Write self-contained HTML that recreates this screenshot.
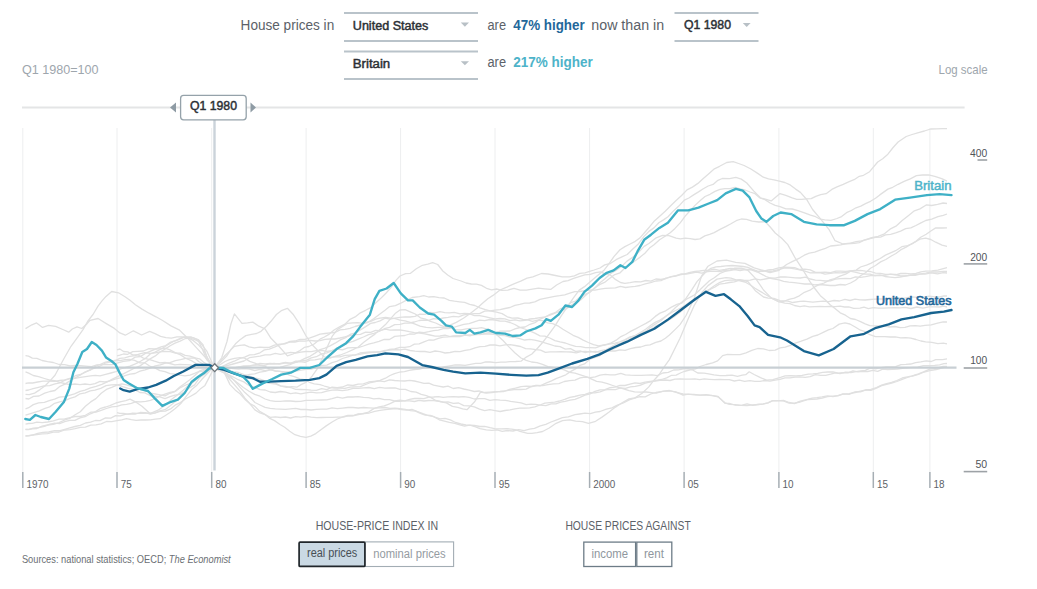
<!DOCTYPE html>
<html><head><meta charset="utf-8">
<style>
html,body{margin:0;padding:0;background:#fff;}
body{width:1037px;height:589px;overflow:hidden;}
svg{display:block;font-family:"Liberation Sans",sans-serif;}
</style></head>
<body>
<svg width="1037" height="589" viewBox="0 0 1037 589">
<rect width="1037" height="589" fill="#fff"/>
<!-- header -->
<g font-size="14" fill="#5b6168">
<text x="240.6" y="29.9" textLength="93.6" lengthAdjust="spacingAndGlyphs">House prices in</text>
<text x="487.5" y="29.8" textLength="18.5" lengthAdjust="spacingAndGlyphs">are</text>
<text x="591.3" y="29.8" textLength="72.8" lengthAdjust="spacingAndGlyphs">now than in</text>
<text x="487.5" y="66.8" textLength="18.5" lengthAdjust="spacingAndGlyphs">are</text>
</g>
<text x="513.3" y="29.8" font-size="14" font-weight="bold" fill="#23679a" textLength="71.4" lengthAdjust="spacingAndGlyphs">47% higher</text>
<text x="513.3" y="66.8" font-size="14" font-weight="bold" fill="#4db3c9" textLength="79.5" lengthAdjust="spacingAndGlyphs">217% higher</text>
<!-- dropdowns -->
<g stroke="#b9c3ca" stroke-width="2">
<line x1="344" y1="13" x2="478" y2="13"/><line x1="344" y1="41" x2="478" y2="41"/>
<line x1="344" y1="51.5" x2="478" y2="51.5"/><line x1="344" y1="79" x2="478" y2="79"/>
<line x1="674.5" y1="13" x2="758.5" y2="13"/><line x1="674.5" y1="41" x2="758.5" y2="41"/>
</g>
<g fill="#b8c0c6">
<path d="M460.8,22.6 L469,22.6 L464.9,26.7Z"/>
<path d="M460.8,61.2 L469,61.2 L464.9,65.3Z"/>
<path d="M742.8,23 L750.6,23 L746.7,27.1Z"/>
</g>
<g font-size="12" fill="#2b2f34" stroke="#2b2f34" stroke-width="0.45">
<text x="352.8" y="29.5" textLength="75.5" lengthAdjust="spacingAndGlyphs">United States</text>
<text x="352.8" y="68" textLength="37.4" lengthAdjust="spacingAndGlyphs">Britain</text>
<text x="684" y="29.4" textLength="47" lengthAdjust="spacingAndGlyphs">Q1 1980</text>
</g>
<g font-size="13" fill="#9ea6ad">
<text x="21.9" y="74.1" textLength="76.6" lengthAdjust="spacingAndGlyphs">Q1 1980=100</text>
<text x="938.6" y="74" textLength="49" lengthAdjust="spacingAndGlyphs">Log scale</text>
</g>
<!-- top slider line -->
<line x1="22" y1="107.6" x2="964.6" y2="107.6" stroke="#e4e5e6" stroke-width="2"/>
<!-- grid -->
<g stroke="#edeeef" stroke-width="1">
<line x1="22.8" y1="128" x2="22.8" y2="472" />
<line x1="117.0" y1="128" x2="117.0" y2="472" />
<line x1="211.7" y1="128" x2="211.7" y2="472" />
<line x1="306.1" y1="128" x2="306.1" y2="472" />
<line x1="400.6" y1="128" x2="400.6" y2="472" />
<line x1="495.0" y1="128" x2="495.0" y2="472" />
<line x1="589.6" y1="128" x2="589.6" y2="472" />
<line x1="684.1" y1="128" x2="684.1" y2="472" />
<line x1="778.9" y1="128" x2="778.9" y2="472" />
<line x1="873.3" y1="128" x2="873.3" y2="472" />
<line x1="929.9" y1="128" x2="929.9" y2="472" />
</g>
<!-- gray lines -->
<g fill="none" stroke="#e0e0e0" stroke-width="1.3" stroke-linejoin="round">
<polyline points="25.5,328.6 31.9,324.8 36.6,322.9 42.6,327.4 48.5,325.4 55.6,326.4 62.8,329.5 68.7,332.2 72.3,329.0 77.0,326.8 81.8,328.5 86.5,324.3 90.0,320.3 98.1,318.5 106.3,323.6 114.4,328.4 119.9,332.9 125.3,335.2 133.4,330.8 141.6,335.0 149.7,331.3 155.0,333.7 160.6,336.3 166.0,337.6 171.4,338.2 176.9,336.9 182.3,336.9 187.7,337.8 193.1,340.4 198.6,345.1 204.0,350.6 209.2,361.2 214.3,367.6 219.4,362.6 225.0,355.5 229.5,351.1 234.5,346.4 240.0,345.4 244.4,344.9 249.1,346.8 254.2,347.9 260.0,347.1 264.4,347.5 269.3,347.4 274.4,345.2 279.6,344.1 284.9,343.8 290.0,341.4 295.0,341.0 300.0,339.3 305.0,339.4 310.0,337.9 315.0,336.1 320.0,334.2 325.0,333.5 330.0,332.8 335.0,332.5 340.0,329.9 345.0,329.4 350.0,328.4 355.1,326.5 360.4,325.0 365.6,322.5 370.7,321.4 375.6,319.2 380.0,318.2 385.7,317.5 390.6,318.2 395.2,318.7 400.0,320.1 405.1,320.9 410.2,322.4 415.2,324.1 420.0,326.2 426.2,327.4 432.1,327.8 437.4,327.3 443.7,327.4 449.5,325.4 456.3,322.4 463.4,318.3 470.2,313.5 477.3,308.1 482.5,303.3 487.8,298.7 493.0,295.4 500.0,290.0 506.8,287.1 513.9,283.8 520.7,281.1 527.1,278.1 532.8,276.8 541.5,273.5 548.1,274.0 555.4,275.5 562.2,276.8 569.3,276.8 574.4,275.8 579.8,273.3 585.0,272.8 589.6,271.3 594.1,270.0 600.0,268.0 604.7,264.9 610.3,263.5 616.1,259.7 621.9,256.9 627.2,254.5 633.1,248.7 638.6,243.7 643.8,236.6 648.9,231.4 653.9,227.9 658.8,222.7 663.5,219.9 668.0,216.7 673.5,210.9 678.8,206.1 684.3,200.1 688.9,198.0 693.6,194.9 698.5,191.9 703.3,188.8 708.2,186.0 713.1,184.4 717.9,180.3 722.3,178.5 729.6,178.6 735.9,177.4 741.3,179.1 746.8,183.0 753.6,190.9 760.4,197.8 766.1,199.4 771.2,200.9 780.0,193.6 785.8,195.4 792.2,197.9 796.8,199.4 801.7,199.3 806.5,198.8 811.2,198.6 815.8,196.3 820.7,194.6 826.1,193.7 831.8,189.4 837.0,186.9 843.2,184.4 849.2,181.7 854.1,179.7 859.3,176.3 863.5,175.3 869.6,171.7 877.7,162.0 882.7,158.7 887.9,154.2 893.1,147.5 898.1,142.0 906.2,136.5 912.1,134.5 918.5,132.6 924.4,131.0 930.7,129.0 936.4,128.9 942.6,128.6 947.0,128.6"/>
<polyline points="25.5,394.3 29.2,394.7 34.6,393.1 40.0,389.6 45.2,385.8 50.4,380.4 55.0,375.3 64.0,358.5 71.0,346.3 77.7,337.2 83.0,329.6 88.0,320.9 93.0,314.5 98.0,306.1 102.0,300.9 106.0,296.4 111.7,291.5 118.5,292.8 125.0,296.7 130.0,300.2 135.4,304.7 142.0,309.1 149.0,313.2 156.0,316.8 162.6,320.5 171.0,325.9 179.6,330.2 188.0,338.5 196.6,347.9 205.0,357.0 214.3,367.6 219.3,365.2 225.0,361.5 229.5,359.6 234.5,358.4 240.0,357.6 244.6,358.1 249.7,361.4 254.9,363.1 260.0,365.3 265.0,366.2 270.0,369.4 275.0,371.0 280.0,371.3 285.0,373.2 290.0,375.4 295.0,376.8 300.0,378.8 304.8,379.6 309.4,382.3 314.3,383.8 320.0,384.6 324.4,386.0 329.3,387.4 334.4,388.1 339.6,388.0 344.9,388.3 350.0,387.2 355.1,386.8 360.4,386.7 365.6,384.5 370.7,382.5 375.6,381.5 380.0,380.4 385.5,378.2 390.0,375.5 394.5,373.6 400.0,372.0 404.4,371.6 409.3,370.4 414.4,369.5 419.6,369.1 424.9,367.7 430.0,367.2 435.0,367.8 440.0,367.8 445.0,366.6 450.0,365.8 455.0,364.9 460.0,365.0 465.1,365.3 470.4,364.4 475.6,363.4 480.7,363.4 485.6,361.8 490.0,362.0 495.8,362.7 500.9,362.2 505.5,362.1 510.0,361.6 515.7,361.5 521.0,361.2 526.3,357.1 531.9,354.0 537.5,348.2 542.6,342.5 549.0,334.2 554.8,326.1 560.9,316.4 567.0,307.3 573.1,298.4 579.2,290.1 585.3,286.1 591.4,280.8 597.3,275.8 603.7,270.6 608.7,264.2 614.1,256.4 620.0,249.7 624.9,246.6 630.1,244.0 635.3,241.3 640.0,237.9 645.1,232.0 649.7,226.7 654.4,220.9 659.7,216.2 665.2,211.2 670.7,205.7 676.1,200.5 681.6,195.5 687.0,189.9 692.4,187.1 697.9,183.4 703.3,178.6 708.8,173.8 714.4,168.8 719.6,166.3 726.7,162.5 733.2,161.6 738.6,163.5 744.1,165.5 750.9,169.0 757.7,173.4 763.3,177.2 768.5,178.8 774.0,179.8 779.4,181.2 784.8,182.5 790.2,184.9 795.6,189.1 800.4,192.4 806.5,199.2 812.6,209.5 820.7,219.2 828.9,229.3 835.0,240.7 843.0,244.0 850.5,243.5 854.4,243.4 859.2,242.7 864.7,239.9 870.2,238.5 875.5,237.4 880.5,237.1 885.5,234.8 890.6,234.4 895.6,232.9 900.6,231.1 905.7,228.6 910.8,227.9 915.9,225.5 920.9,222.9 925.7,220.5 931.8,219.1 937.9,216.7 943.3,215.3 947.0,214.0"/>
<polyline points="25.5,408.8 28.7,407.7 33.3,404.6 38.6,402.8 44.4,402.3 50.0,400.4 54.6,399.1 59.3,397.2 64.2,396.6 69.3,395.4 74.5,393.9 80.0,391.4 85.0,390.1 90.5,387.9 96.1,386.3 101.8,384.4 107.2,382.0 112.4,379.1 117.0,376.9 123.8,373.6 129.6,370.6 134.8,368.0 140.0,365.9 145.3,362.2 150.5,358.6 155.4,355.9 160.0,352.0 165.4,348.9 170.2,345.8 175.0,343.1 180.2,341.2 185.4,338.5 190.0,338.0 195.5,339.9 200.0,342.3 207.0,351.4 214.3,367.6 218.4,367.9 223.5,365.9 229.2,363.2 234.9,360.8 240.0,358.5 245.2,356.9 249.7,354.8 254.4,354.6 260.0,352.8 264.4,349.9 269.3,349.1 274.4,347.1 279.6,344.8 284.9,343.3 290.0,342.0 295.0,342.0 300.0,340.8 305.0,341.2 310.0,340.3 315.0,341.0 320.0,340.7 325.0,339.4 330.0,339.0 335.0,339.0 340.0,338.0 345.0,336.8 350.0,335.5 355.1,334.7 360.4,334.3 365.6,332.1 370.7,332.4 375.6,330.3 380.0,330.7 385.5,329.1 390.0,330.1 394.5,329.9 400.0,330.0 404.4,330.6 409.3,331.7 414.4,332.6 419.6,333.1 424.9,333.8 430.0,335.0 435.0,336.2 440.0,336.0 445.0,335.2 450.0,336.7 455.0,336.5 460.0,336.7 465.0,335.2 470.0,335.8 475.0,334.1 480.0,334.6 485.0,333.3 490.0,332.5 495.0,333.1 500.0,331.1 505.0,331.2 510.0,331.0 515.0,328.9 520.0,327.5 525.0,327.0 530.0,324.3 535.0,322.6 540.0,319.1 545.0,317.2 550.0,314.4 555.1,312.7 560.4,308.7 565.6,307.3 570.7,302.7 575.6,301.1 580.0,297.1 585.5,294.2 590.0,292.3 594.5,288.0 600.0,284.4 604.5,282.4 609.5,278.6 614.8,274.6 620.1,272.8 625.2,267.8 630.0,264.2 635.2,260.7 640.2,257.1 644.9,253.2 649.5,248.1 654.0,244.7 659.6,239.7 665.1,236.3 670.2,232.7 675.0,228.4 680.4,222.6 685.2,216.1 690.0,210.7 695.0,205.4 700.0,200.7 705.0,196.5 710.0,194.3 715.0,191.4 720.0,189.3 725.0,188.6 730.0,188.7 735.0,187.3 740.0,188.9 745.0,190.0 750.0,192.0 755.0,193.7 760.0,198.0 765.0,199.6 770.1,203.0 775.2,205.4 780.0,206.7 785.9,208.8 792.2,209.0 798.0,210.6 804.5,212.8 810.5,215.1 815.6,216.7 820.3,219.2 824.8,219.8 830.9,220.3 837.0,218.5 841.6,216.6 846.5,212.7 851.3,210.5 856.0,207.8 860.8,206.1 865.5,203.7 870.5,201.3 875.5,198.3 879.8,194.9 887.9,189.1 892.7,187.3 898.1,184.3 904.1,181.3 910.3,178.8 916.4,175.6 922.5,175.0 928.6,174.8 934.8,176.3 941.7,178.6 947.0,181.1"/>
<polyline points="25.5,429.5 28.7,429.4 33.3,428.2 38.6,427.6 44.4,426.4 50.0,424.2 54.7,423.1 59.6,423.6 64.7,421.6 69.8,420.4 74.9,420.4 80.0,417.9 85.1,416.7 90.4,413.8 95.6,411.6 100.7,408.3 105.6,407.0 110.0,405.7 115.9,403.0 121.1,401.7 125.8,400.6 130.0,399.2 136.8,402.7 142.0,406.2 150.0,413.6 158.0,410.2 166.0,404.7 171.4,399.4 178.0,394.4 183.2,390.3 189.0,385.1 195.0,380.8 199.5,376.1 204.1,373.0 209.0,369.2 214.3,367.6 219.0,368.8 223.9,370.4 229.1,371.3 234.5,373.3 240.0,374.5 244.8,375.8 249.7,374.3 254.7,373.8 259.8,372.1 265.0,371.3 270.0,369.8 275.0,368.4 280.0,367.4 285.0,365.8 290.0,364.6 295.0,362.3 300.0,360.8 305.0,358.4 310.0,356.3 315.0,353.1 320.0,349.6 325.0,348.2 330.0,345.8 335.1,343.2 340.4,339.9 345.6,337.6 350.7,334.1 355.6,332.8 360.0,330.1 365.7,326.6 370.6,323.4 375.2,322.5 380.0,320.9 385.0,318.2 390.0,319.1 395.0,318.2 400.0,317.4 405.0,316.9 410.0,317.0 415.0,316.4 420.0,314.2 425.0,314.4 430.0,312.4 435.0,312.9 440.0,311.7 444.8,312.6 449.4,312.9 454.3,312.4 460.0,313.9 464.4,313.3 469.3,313.7 474.4,315.6 479.6,315.6 484.9,316.7 490.0,317.8 495.0,318.8 500.0,318.5 505.0,318.8 510.0,320.6 515.0,319.8 520.0,320.8 525.0,320.4 530.0,319.0 535.0,318.5 540.0,317.7 545.0,316.8 550.0,315.2 555.1,313.2 560.4,311.0 565.6,309.1 570.7,305.6 575.6,302.6 580.0,300.4 585.5,295.4 590.2,291.3 594.7,288.2 600.0,282.7 605.0,278.8 610.5,273.7 616.2,270.1 621.8,266.2 627.0,261.1 633.0,257.1 638.8,252.1 644.1,246.4 648.9,243.5 656.2,237.8 662.5,235.4 669.0,235.6 676.1,238.2 680.5,238.9 685.3,238.2 690.2,238.7 695.1,239.5 699.9,238.9 704.8,235.9 709.6,234.3 714.2,232.6 720.0,229.4 725.6,226.6 730.5,224.0 736.2,220.7 741.3,219.0 746.6,219.3 752.2,221.1 758.8,222.0 765.2,221.7 770.2,227.0 775.2,233.0 781.7,238.3 787.8,244.6 795.3,258.2 802.8,269.7 810.3,282.1 815.2,289.0 820.4,295.7 825.1,299.7 830.4,305.0 835.0,308.5 840.2,312.8 845.4,315.2 850.4,318.5 855.5,319.5 860.5,321.7 865.2,323.9 869.8,325.7 875.5,325.9 879.8,325.9 884.6,326.1 889.7,327.0 894.9,326.5 900.0,327.6 905.0,327.4 910.1,325.9 915.2,325.6 920.2,326.1 925.0,325.3 931.2,324.8 937.6,323.1 943.1,321.9 947.0,322.0"/>
<polyline points="25.5,383.5 28.6,382.9 32.7,383.0 37.6,382.0 43.0,381.2 48.7,381.2 54.5,381.4 60.0,380.5 64.8,379.9 69.8,378.4 75.0,378.4 80.3,377.4 85.5,376.6 90.6,375.8 95.4,375.3 100.0,375.8 105.6,374.4 110.9,373.0 115.9,371.6 120.7,369.0 125.4,367.5 130.0,366.2 135.4,363.9 140.5,361.3 145.4,358.4 150.2,354.0 155.0,352.2 161.1,349.0 167.1,345.3 172.9,341.7 178.0,340.0 183.8,337.2 188.7,337.6 193.0,337.7 198.2,339.5 203.0,344.6 207.0,357.6 214.3,367.6 218.0,368.8 222.3,369.7 227.1,369.4 232.4,368.1 238.0,367.2 243.9,366.7 250.0,365.9 254.4,365.1 259.1,365.1 263.9,365.6 269.0,363.9 274.1,363.5 279.3,364.2 284.5,363.1 289.8,363.1 294.9,362.5 300.0,361.7 305.0,362.3 310.0,360.2 315.0,359.9 320.0,358.8 325.0,358.8 330.0,357.4 335.0,356.8 340.0,356.8 345.0,355.3 350.0,355.1 355.0,355.1 360.0,353.0 365.0,352.3 370.0,352.0 375.0,352.4 380.0,351.6 385.0,350.4 390.0,350.2 395.0,349.6 400.0,349.9 405.0,349.1 410.0,350.5 415.0,351.1 420.0,351.5 425.0,351.5 430.0,352.3 435.0,351.0 440.0,351.7 445.0,353.0 450.0,352.5 455.0,351.4 460.0,351.7 465.0,350.3 470.0,349.7 475.0,347.8 480.0,346.7 485.0,346.3 490.0,345.0 495.0,345.0 500.0,345.8 505.0,344.9 510.2,344.7 515.3,345.5 520.5,346.5 525.6,348.6 530.7,348.8 535.7,349.6 540.6,350.1 545.4,352.4 550.0,351.9 555.5,351.8 560.9,351.7 566.2,351.8 571.2,352.0 576.2,352.8 580.9,351.7 585.5,351.3 590.0,352.0 595.6,351.4 600.7,352.5 605.6,350.6 610.4,351.0 615.1,351.0 620.0,349.8 625.1,350.3 630.4,348.7 635.7,347.5 640.8,347.0 645.6,345.3 650.0,344.9 655.8,342.4 660.9,341.0 665.4,338.2 669.4,335.0 675.5,329.1 680.0,324.6 686.0,315.5 694.0,298.9 701.7,275.8 708.0,266.2 717.0,261.0 726.4,260.1 735.7,262.4 745.0,263.3 754.2,267.9 763.5,270.7 770.0,272.7 779.0,270.3 786.6,264.5 792.2,261.6 800.0,257.8 804.3,255.2 809.3,253.2 814.7,252.2 820.1,250.1 825.4,248.4 830.5,246.0 835.7,245.5 840.8,244.9 845.7,243.7 850.5,243.2 856.1,241.6 861.5,240.8 866.6,239.7 871.6,237.6 878.2,236.4 884.4,233.8 890.0,229.2 896.5,225.8 902.2,220.6 908.3,215.7 914.4,210.8 920.0,208.9 926.6,204.8 931.6,205.5 937.6,204.4 943.1,203.0 947.0,203.5"/>
<polyline points="25.5,415.2 28.9,414.2 33.7,412.7 39.3,410.9 45.0,408.4 49.6,406.9 54.6,403.3 59.7,401.9 64.9,400.7 70.0,398.3 75.0,396.9 80.1,393.8 85.2,392.8 90.2,390.9 95.0,390.1 100.7,388.4 106.1,385.7 111.5,384.8 117.0,384.6 122.6,386.7 128.3,388.3 134.1,389.4 140.0,392.5 144.9,392.9 149.9,395.5 154.9,396.1 160.0,396.9 165.0,398.7 170.0,396.7 175.0,395.1 180.1,394.4 185.0,391.6 190.0,387.6 194.6,384.9 198.7,379.1 203.1,374.2 208.1,369.2 214.3,367.6 218.4,368.3 223.0,368.5 227.9,370.2 233.1,371.7 238.5,372.5 244.0,374.6 249.4,376.2 254.8,377.9 260.0,379.2 265.1,380.9 270.2,382.9 275.3,383.2 280.4,385.8 285.5,386.4 290.6,387.5 295.7,389.4 300.8,389.5 306.0,389.7 311.2,390.1 316.4,390.3 321.6,388.6 326.8,389.7 332.1,387.2 337.3,387.7 342.5,387.0 347.8,384.8 353.0,385.5 358.2,384.1 363.4,383.8 368.6,382.0 373.8,381.3 379.0,380.8 384.3,381.6 389.5,379.8 394.7,380.5 400.0,380.8 404.8,381.0 409.6,380.4 414.4,381.0 419.2,382.1 424.0,383.4 428.8,383.1 433.6,385.1 438.4,386.1 443.2,387.0 448.0,386.2 453.3,388.5 458.6,387.7 463.8,389.0 469.1,390.2 474.3,391.5 479.5,391.0 484.7,392.5 489.9,392.1 495.0,391.7 500.2,391.5 505.4,390.8 510.7,390.0 516.0,389.4 521.1,389.5 526.2,389.1 531.0,386.6 535.7,385.3 540.0,385.9 546.0,383.2 551.5,380.9 556.6,378.3 561.3,376.7 565.8,374.8 570.0,371.9 575.5,368.9 580.0,365.3 584.5,363.9 590.0,359.2 594.4,357.7 599.3,355.9 604.4,352.1 609.6,350.7 614.9,348.5 620.0,345.2 625.1,342.8 630.4,338.7 635.6,336.4 640.7,333.0 645.6,331.4 650.0,327.6 655.8,323.8 660.9,320.7 665.5,316.5 670.0,312.9 675.8,307.2 681.2,302.7 686.0,298.4 691.9,289.7 697.0,281.6 706.0,271.8 710.9,268.4 716.0,266.8 720.9,266.5 726.0,265.8 732.0,265.5 738.0,266.0 743.2,266.5 748.0,267.3 757.0,271.6 766.0,276.5 771.8,278.7 779.0,279.8 783.6,281.4 788.8,282.1 794.3,282.7 800.0,283.3 804.7,284.0 809.7,283.8 814.8,284.9 819.9,284.5 825.0,285.0 830.1,285.5 835.2,285.5 840.3,284.5 845.4,285.0 850.5,283.0 855.5,280.3 860.5,275.8 865.5,272.8 870.5,268.3 875.5,265.5 880.6,261.9 885.8,259.5 890.9,256.2 895.9,253.5 900.6,249.9 906.1,247.1 911.3,244.0 916.2,241.1 920.7,237.3 926.2,234.3 931.2,230.7 935.7,227.9 942.3,228.0 947.0,227.9"/>
<polyline points="25.5,390.5 28.7,390.0 33.1,388.6 38.4,387.3 44.0,385.8 49.7,385.7 55.0,383.9 60.0,382.8 65.1,380.1 70.3,378.7 75.4,375.7 80.3,374.5 85.0,372.4 90.3,369.7 95.4,367.8 100.2,366.0 105.1,363.2 110.0,362.1 114.9,360.9 119.8,358.4 124.6,357.9 129.7,356.4 135.0,355.6 139.8,353.9 144.8,352.7 150.0,353.4 155.2,352.9 160.2,351.9 165.0,351.3 170.3,351.7 175.4,353.0 180.3,353.1 185.1,355.4 190.0,356.2 194.6,357.7 198.7,361.5 203.1,364.0 208.1,367.4 214.3,367.6 218.4,368.0 223.0,366.5 227.9,365.4 233.1,364.0 238.5,362.5 244.0,361.0 249.4,357.7 254.8,356.8 260.0,356.2 265.1,354.9 270.2,354.8 275.3,353.4 280.4,354.4 285.5,353.4 290.6,352.4 295.7,353.0 300.8,352.1 306.0,351.5 311.2,351.6 316.4,350.6 321.6,350.4 326.8,351.3 332.1,350.7 337.3,349.0 342.5,349.9 347.8,347.9 353.0,347.7 358.2,347.7 363.4,346.0 368.6,344.1 373.8,342.8 379.0,341.3 384.3,339.3 389.5,339.5 394.7,336.4 400.0,335.9 404.8,335.5 409.6,334.0 414.4,334.2 419.2,332.1 424.0,332.6 428.8,331.7 433.6,330.6 438.4,330.2 443.2,328.7 448.0,328.6 453.3,327.5 458.6,325.8 463.8,324.4 469.1,323.6 474.3,321.8 479.5,320.2 484.7,320.7 489.9,319.5 495.0,320.0 500.1,321.2 505.0,321.2 510.0,322.5 514.9,324.5 519.8,327.4 524.7,329.0 529.7,330.9 534.8,333.2 540.0,335.8 544.8,336.1 549.8,338.0 554.9,340.6 560.1,341.9 565.3,343.0 570.5,344.9 575.6,346.3 580.6,346.6 585.4,347.7 590.0,347.7 595.5,347.9 600.9,345.8 606.2,344.5 611.2,342.8 616.2,340.2 620.9,336.6 625.5,334.5 630.0,331.7 635.6,328.9 640.9,326.0 645.9,323.4 650.6,320.6 655.3,316.4 660.0,313.1 665.7,310.8 671.4,307.1 676.9,304.3 681.9,303.0 686.3,299.3 694.2,295.1 700.0,289.8 709.4,280.8 714.3,277.7 719.9,273.5 724.9,271.4 730.1,270.2 735.0,268.2 741.6,268.1 748.0,270.5 755.7,278.6 763.5,290.0 771.2,297.9 779.0,301.8 783.5,301.5 788.9,299.4 794.3,298.1 799.3,295.8 804.4,292.3 810.0,290.2 814.5,287.0 819.1,284.6 824.2,283.0 830.0,279.9 834.7,278.7 840.0,276.1 845.6,274.1 851.1,270.9 856.2,270.1 860.5,267.0 866.5,265.1 870.7,263.4 875.5,260.9 880.2,258.5 885.4,255.1 890.6,252.9 895.6,250.7 901.8,246.7 907.7,245.6 913.1,243.3 919.9,239.2 925.7,238.1 930.8,239.5 935.7,242.2 942.0,245.2 947.0,246.4"/>
<polyline points="25.5,355.7 28.5,356.1 32.3,358.1 36.9,358.3 42.1,360.5 47.6,361.7 53.3,362.5 59.1,364.5 64.7,364.6 70.0,365.9 75.2,365.5 80.5,365.6 86.0,366.1 91.5,366.6 96.9,364.9 102.3,364.6 107.4,364.7 112.4,364.6 117.0,363.1 123.5,361.4 129.5,360.7 135.2,357.1 140.5,356.5 145.4,353.4 150.0,351.4 156.0,348.9 161.1,346.8 165.7,345.6 170.0,342.4 175.4,340.6 180.3,338.4 185.0,336.8 191.4,337.0 198.0,340.2 202.1,348.5 206.6,359.6 214.3,367.6 218.1,368.9 222.5,368.7 227.3,368.3 232.6,368.2 238.1,367.2 243.7,366.0 249.3,365.9 254.7,364.9 260.0,363.5 265.1,363.8 270.2,363.5 275.3,363.9 280.4,363.5 285.5,362.4 290.6,363.3 295.7,361.2 300.8,361.0 306.0,360.5 311.2,357.9 316.4,356.7 321.6,353.9 326.8,352.8 332.1,350.6 337.3,347.9 342.5,346.1 347.8,342.8 353.0,341.4 358.2,339.1 363.4,337.0 368.6,334.7 373.8,333.3 379.0,331.5 384.3,328.7 389.5,327.3 394.7,324.6 400.0,324.4 404.8,323.2 409.6,323.0 414.4,322.0 419.2,320.5 424.0,320.2 428.8,320.3 433.6,318.7 438.4,319.1 443.2,318.0 448.0,317.3 453.3,316.4 458.6,316.9 463.8,314.9 469.1,314.2 474.3,313.6 479.5,313.6 484.7,311.2 489.9,310.9 495.0,310.1 500.1,309.7 505.0,308.5 510.0,307.5 514.9,305.3 519.8,304.4 524.7,303.2 529.7,303.0 534.8,301.9 540.0,299.4 544.8,298.4 549.7,297.4 554.6,296.4 559.6,295.7 564.7,294.8 569.8,293.2 574.8,291.7 579.9,291.5 585.0,290.6 590.0,290.1 595.0,290.1 600.1,289.1 605.2,288.3 610.3,288.1 615.4,287.8 620.4,286.4 625.4,287.5 630.4,286.8 635.2,286.4 640.0,285.5 645.3,283.8 650.6,282.7 655.8,281.0 661.0,280.6 666.1,278.2 671.0,276.9 675.6,276.0 680.0,274.8 684.0,274.2 690.1,272.4 695.1,271.4 699.6,271.0 703.9,270.3 708.7,270.3 714.0,269.2 719.4,270.3 724.9,269.5 730.4,268.5 735.9,268.7 741.3,269.0 746.8,269.4 752.2,269.4 757.6,271.1 763.0,271.4 768.3,270.0 773.4,269.3 778.6,267.8 784.1,267.2 790.0,267.5 794.7,267.7 799.7,269.5 804.9,269.1 810.2,269.9 815.5,272.4 820.4,272.4 825.0,272.1 830.7,272.7 835.9,271.1 840.8,271.2 845.6,271.4 850.5,270.9 855.5,270.7 860.5,270.4 865.5,271.2 870.5,271.5 875.5,273.2 880.5,273.3 885.5,274.4 890.6,274.3 895.6,274.5 900.6,275.8 905.7,275.9 910.8,275.1 915.9,274.4 920.9,273.8 925.7,273.1 931.8,271.8 937.9,272.0 943.3,271.4 947.0,271.5"/>
<polyline points="25.5,398.5 28.8,399.0 33.5,396.4 39.0,396.0 44.7,393.2 50.0,391.5 55.0,390.5 60.0,386.3 65.0,384.1 70.0,380.8 75.0,377.9 80.1,375.2 85.2,371.8 90.4,370.2 95.3,366.3 100.0,364.5 105.4,362.2 110.3,361.1 115.1,360.4 120.0,360.7 124.9,359.6 129.7,359.4 134.6,360.3 140.0,362.9 144.7,362.8 149.6,366.0 154.8,367.9 159.9,370.6 165.0,371.7 170.0,373.6 175.0,374.2 180.1,375.2 185.0,375.9 190.0,375.1 194.6,373.4 198.7,371.5 203.1,371.2 208.1,368.6 214.3,367.6 218.4,366.9 223.0,368.3 227.9,367.9 233.1,368.5 238.5,369.2 244.0,368.6 249.4,369.2 254.8,370.5 260.0,369.3 265.1,370.7 270.2,369.7 275.3,371.0 280.4,371.3 285.5,371.9 290.6,371.7 295.7,371.0 300.8,370.1 306.0,369.4 311.2,369.1 316.4,367.7 321.6,365.4 326.8,365.1 332.1,362.6 337.3,361.1 342.5,358.5 347.8,356.9 353.0,355.1 358.2,354.6 363.4,353.5 368.6,352.9 373.8,352.0 379.0,352.0 384.3,351.4 389.5,349.3 394.7,348.8 400.0,347.4 404.8,347.3 409.6,346.7 414.4,344.1 419.2,343.9 424.0,341.8 428.8,340.0 433.6,340.2 438.4,338.4 443.2,337.2 448.0,336.9 453.3,335.9 458.6,335.6 463.8,335.2 469.1,334.9 474.3,334.9 479.5,334.3 484.7,333.9 489.9,334.0 495.0,334.3 500.1,335.4 505.0,335.6 510.0,337.1 514.9,337.3 519.8,338.6 524.7,340.0 529.7,339.3 534.8,340.2 540.0,341.4 544.8,342.8 549.8,344.3 554.9,346.0 560.1,346.7 565.3,349.1 570.5,348.7 575.6,351.3 580.6,351.0 585.4,352.6 590.0,351.2 595.5,352.3 600.9,350.7 606.2,349.6 611.2,346.9 616.2,344.0 620.9,343.2 625.5,340.0 630.0,337.3 635.6,335.4 640.7,332.3 645.6,329.2 650.4,325.5 655.1,322.4 660.0,320.1 665.1,316.8 670.4,313.1 675.6,310.5 680.7,308.0 685.6,305.0 690.0,301.9 695.8,298.3 700.9,295.1 705.6,292.0 710.0,289.5 715.0,287.0 719.4,284.1 725.0,283.4 729.4,282.5 734.4,281.8 739.6,280.2 745.0,280.4 750.2,280.1 755.2,278.9 760.2,279.9 765.2,279.0 770.2,278.0 775.2,278.1 780.2,277.0 785.2,276.9 790.3,277.4 795.3,277.9 800.3,278.0 805.3,277.2 810.3,279.0 815.4,280.2 820.4,280.4 825.4,281.0 830.4,280.9 835.4,279.1 840.5,278.6 845.5,278.4 850.5,278.6 855.5,276.9 860.5,277.4 865.5,276.7 870.5,275.6 875.5,275.4 880.5,275.7 885.5,275.2 890.6,274.1 895.6,274.9 900.6,273.5 905.7,273.4 910.8,274.0 915.9,273.3 920.9,271.8 925.7,271.1 931.8,270.8 937.9,270.1 943.3,268.7 947.0,267.7"/>
<polyline points="117.0,355.9 119.9,355.2 123.5,354.0 127.8,354.3 132.7,351.6 137.9,351.3 143.4,351.0 149.0,348.7 154.5,349.0 159.9,348.9 165.0,348.2 170.0,349.9 175.2,352.6 180.6,354.9 186.0,358.5 191.4,360.6 196.6,363.7 201.6,365.9 206.3,368.1 210.5,369.3 214.3,367.6 221.7,357.8 227.0,341.5 230.9,324.0 234.4,313.9 242.0,323.3 247.5,322.9 252.8,322.1 258.9,326.2 265.0,328.8 271.0,338.3 279.3,346.8 287.4,355.9 293.0,354.0 300.0,350.6 304.2,347.4 308.9,346.5 314.1,344.0 320.0,339.2 324.4,337.0 329.3,334.1 334.4,329.8 339.6,326.9 344.9,324.2 350.0,319.3 355.1,316.9 360.4,312.8 365.6,310.3 370.7,307.6 375.6,303.0 380.0,299.1 385.9,293.2 391.2,287.4 395.9,280.4 400.0,276.0 405.6,273.6 410.2,273.4 416.3,268.8 422.4,265.3 427.9,264.2 432.6,262.7 437.7,264.5 442.8,271.0 447.7,275.0 453.0,278.5 461.1,281.0 466.1,283.0 471.3,284.0 476.4,284.1 481.5,285.4 486.5,288.3 491.6,289.8 496.6,289.0 501.8,290.3 507.8,290.1 514.0,288.4 520.1,290.2 526.3,290.1 532.4,289.2 538.5,288.2 544.6,288.8 550.7,289.4 556.6,285.0 563.0,281.5 568.1,280.6 573.6,278.4 579.2,276.6 584.7,274.8 590.2,274.3 595.5,272.7 600.6,271.8 605.5,274.1 610.0,274.7 614.9,279.1 620.5,282.5 624.9,283.3 630.0,282.7 635.5,281.6 640.8,281.9 645.9,280.5 650.9,281.1 655.9,279.0 661.0,279.5 666.1,278.5 671.1,276.6 676.2,275.7 681.3,273.8 686.4,274.0 691.5,273.0 696.6,272.2 701.5,273.1 707.7,271.6 713.8,271.2 720.0,271.6 724.8,270.4 729.7,270.7 734.8,269.5 740.0,270.6 745.4,269.7 751.1,269.8 756.9,271.8 763.0,270.4 768.0,271.5 773.1,271.0 778.4,269.6 784.0,268.1 790.0,268.2 794.7,268.9 799.7,269.9 805.0,271.2 810.3,272.8 815.5,272.6 820.5,272.9 825.0,274.1 830.6,273.3 835.7,272.7 840.5,272.9 845.2,272.5 850.0,271.2 855.0,272.2 860.0,273.3 865.0,274.1 870.0,274.2 875.0,275.7 880.0,274.9 885.0,276.5 890.0,277.1 895.0,277.6 900.0,277.0 905.0,276.0 910.1,275.3 915.2,275.3 920.2,274.0 925.0,274.2 931.2,272.8 937.6,273.8 943.1,272.6 947.0,273.0"/>
<polyline points="25.5,424.1 28.5,423.5 32.3,423.3 36.9,422.1 42.1,422.6 47.6,422.0 53.3,420.9 59.1,419.2 64.7,419.0 70.0,417.7 75.1,416.5 80.3,416.5 85.4,415.3 90.7,412.2 95.9,412.2 101.2,410.3 106.4,408.5 111.7,406.9 117.0,406.3 121.8,404.9 126.5,404.3 131.3,403.4 136.1,401.7 140.9,401.9 145.7,401.4 150.5,400.3 155.3,398.4 160.1,395.9 165.0,394.1 170.0,392.3 175.2,391.4 180.4,387.6 185.8,385.0 191.0,383.1 196.2,379.0 201.2,376.4 205.9,373.2 210.3,369.6 214.3,367.6 221.0,361.9 226.5,356.3 231.2,349.1 235.5,343.8 240.0,339.8 245.8,335.6 251.5,334.4 256.6,333.5 261.0,331.3 266.7,326.0 271.0,321.3 276.4,314.5 281.3,310.7 287.4,308.3 293.5,314.8 299.6,324.1 305.8,335.5 311.9,344.5 320.0,352.8 324.1,356.9 330.0,358.2 334.7,356.5 340.4,355.0 346.7,352.5 353.0,349.6 358.3,347.0 363.8,342.3 369.5,337.9 375.0,334.1 380.0,329.4 385.5,324.6 390.4,318.9 395.1,313.6 400.0,310.0 405.1,309.6 410.2,311.8 415.3,314.0 420.4,317.8 425.5,319.2 430.5,321.3 435.6,323.0 440.7,325.4 445.8,327.1 450.9,328.0 456.0,329.8 461.1,329.9 466.3,328.8 471.6,328.4 476.7,328.3 481.5,327.6 487.0,329.2 492.0,330.8 497.8,335.7 503.0,340.5 508.7,346.6 514.8,352.8 521.0,358.0 526.2,360.4 531.5,362.0 537.0,362.7 542.5,364.4 548.0,366.7 553.4,367.4 558.8,368.3 564.2,369.9 569.6,372.4 575.0,373.2 580.4,374.9 585.8,376.5 591.2,378.8 596.6,381.4 602.0,382.1 607.4,383.7 612.8,385.5 618.2,387.4 623.6,388.9 629.0,390.6 634.6,391.8 640.4,392.1 646.2,392.0 651.5,392.6 656.0,393.2 663.6,391.1 669.5,390.5 676.0,392.4 683.0,394.0 688.4,394.3 694.1,394.4 700.0,395.1 706.3,394.7 712.8,395.6 718.0,396.8 725.0,402.8 729.3,404.3 734.8,404.6 740.9,405.3 747.1,403.9 752.8,405.3 758.0,404.5 763.1,403.9 768.0,402.8 772.7,400.6 777.0,400.8 783.4,400.4 789.1,402.5 794.4,403.7 800.3,401.1 808.3,399.2 812.2,398.1 816.9,397.6 822.1,396.8 827.5,395.8 833.0,396.7 838.2,395.7 843.0,394.1 849.1,393.6 855.0,392.5 860.5,391.2 865.8,390.0 870.8,389.3 876.5,387.5 881.6,385.2 886.6,383.6 891.6,382.3 896.9,380.5 902.2,378.0 907.4,376.9 912.4,375.8 918.5,373.8 924.1,371.7 929.8,369.1 936.2,368.3 942.5,366.5 947.0,366.4"/>
<polyline points="25.5,371.9 28.7,373.2 33.3,375.5 38.6,376.6 44.4,378.5 50.0,380.2 54.7,380.6 59.6,382.3 64.7,383.5 69.8,384.7 74.9,384.0 80.0,384.6 85.0,384.0 90.0,384.7 95.0,383.7 100.0,381.4 105.0,382.0 110.0,380.8 115.0,379.1 120.0,377.8 125.0,375.7 130.0,374.1 135.0,373.5 140.0,371.2 145.1,369.8 150.2,368.1 155.3,365.9 160.4,364.9 165.3,363.2 170.0,362.6 175.4,360.6 180.6,359.6 185.7,358.3 190.4,358.1 195.0,357.9 199.6,358.8 203.4,362.1 207.8,364.9 214.3,367.6 218.2,370.2 222.7,372.3 227.6,374.2 232.8,376.8 238.2,379.7 243.8,381.9 249.3,385.7 254.8,387.1 260.0,389.6 265.1,390.0 270.2,392.0 275.3,392.5 280.4,391.5 285.5,392.2 290.6,393.6 295.7,392.9 300.8,393.9 306.0,392.8 311.2,392.1 316.4,392.8 321.6,392.6 326.8,391.1 332.1,390.2 337.3,390.0 342.5,390.6 347.8,389.8 353.0,388.3 358.3,388.3 363.6,387.8 368.9,387.5 374.3,388.6 379.6,387.4 384.9,388.1 390.0,388.0 395.1,387.9 400.0,389.4 405.4,389.3 410.8,391.5 416.1,392.1 421.2,394.4 426.3,395.7 431.1,397.6 435.7,400.5 440.0,401.5 446.4,402.9 452.4,406.4 457.8,407.3 462.7,408.9 467.0,409.7 474.6,401.8 480.5,392.2 486.4,393.1 494.0,392.4 498.5,391.7 503.8,391.5 509.6,389.4 515.4,388.1 521.0,386.7 526.4,386.1 531.8,386.5 537.2,385.5 542.6,385.7 548.0,384.6 553.4,383.8 558.9,383.6 564.3,381.5 569.7,380.6 575.0,380.1 580.2,377.9 585.3,377.0 590.4,377.6 595.3,376.8 600.0,375.1 605.3,374.4 610.0,374.8 615.0,374.8 620.8,373.4 625.4,374.9 630.4,375.2 635.7,375.3 641.2,375.4 646.7,375.1 652.0,374.8 657.3,375.6 662.8,373.0 668.3,372.3 673.6,370.0 678.7,369.8 683.3,368.9 688.8,368.9 693.1,370.2 697.7,373.0 704.1,373.1 708.6,373.8 713.9,374.8 719.9,375.7 726.0,375.5 732.0,375.1 737.5,376.4 742.2,375.1 745.7,374.7 749.2,371.8 754.1,374.5 760.5,377.6 766.6,380.2 772.9,379.6 780.5,377.4 785.1,375.9 790.3,375.6 796.0,375.8 802.1,375.3 808.3,374.2 812.9,373.9 817.7,373.4 822.7,372.4 827.8,372.0 832.9,371.8 838.0,373.2 843.0,372.6 848.0,372.8 852.9,370.9 857.9,371.8 862.8,371.3 867.8,371.5 872.7,370.4 877.7,371.3 882.7,369.2 887.6,369.6 892.6,369.4 897.5,369.2 902.5,368.4 907.4,367.8 912.4,367.4 917.7,367.1 923.3,365.6 929.1,365.6 934.6,365.4 939.6,364.9 943.9,363.7 947.0,363.5"/>
<polyline points="25.5,436.0 28.6,435.8 32.7,435.1 37.6,433.4 43.0,432.3 48.7,432.0 54.5,430.7 60.0,430.6 64.8,429.3 69.8,427.9 75.0,426.5 80.3,425.3 85.5,423.0 90.6,422.2 95.4,420.5 100.0,420.7 105.6,417.9 110.7,418.1 115.6,415.7 120.4,415.9 125.1,414.4 130.0,413.8 135.1,414.2 140.2,412.5 145.3,412.6 150.4,414.0 155.3,412.9 160.0,411.3 165.4,411.2 170.6,408.9 175.6,404.8 180.4,402.6 185.0,399.3 190.6,396.2 196.0,393.1 200.9,388.4 205.0,385.4 214.3,367.6 217.8,368.1 222.0,370.9 226.8,375.4 232.1,378.7 237.7,383.0 243.4,387.5 249.1,391.2 254.7,394.4 260.0,396.2 265.1,399.0 270.2,400.6 275.3,401.4 280.4,401.3 285.5,400.9 290.6,401.0 295.7,401.5 300.8,401.4 306.0,400.3 311.2,400.4 316.4,400.2 321.6,400.0 326.8,399.9 332.1,398.7 337.3,397.2 342.5,398.1 347.8,397.0 353.0,397.0 358.2,396.6 363.4,397.3 368.6,397.7 373.8,398.9 379.0,398.3 384.3,399.7 389.5,399.6 394.7,401.0 400.0,400.2 404.8,400.8 409.6,400.9 414.4,401.5 419.2,400.3 424.0,401.0 428.8,400.5 433.6,400.7 438.4,401.1 443.2,402.2 448.0,401.8 453.3,403.4 458.6,403.0 463.8,405.6 469.1,405.9 474.3,406.9 479.5,409.2 484.7,410.6 489.9,409.7 495.0,410.6 500.1,411.5 505.0,410.5 510.0,409.9 514.9,408.8 519.8,408.1 524.7,408.2 529.7,407.9 534.8,406.9 540.0,405.0 544.8,403.2 549.7,402.6 554.6,402.2 559.6,401.0 564.7,399.4 569.8,397.3 574.8,396.5 579.9,395.2 585.0,394.3 590.0,392.6 595.0,392.9 600.1,391.9 605.2,389.9 610.3,389.4 615.4,389.7 620.4,388.0 625.4,388.4 630.4,386.9 635.2,386.3 640.0,385.4 645.3,383.2 650.7,381.9 656.1,380.3 661.5,379.5 666.7,377.9 671.6,375.3 676.2,375.2 680.4,373.0 684.0,371.5 691.3,369.5 695.6,368.9 700.0,366.5 706.2,364.5 712.6,362.9 717.6,360.9 722.6,355.6 727.5,354.4 733.8,354.6 740.1,354.6 746.0,352.8 751.8,350.3 757.7,348.5 763.4,348.8 769.2,350.5 775.2,350.2 780.1,347.9 785.3,347.2 790.4,345.3 795.3,343.1 801.2,341.2 806.9,339.2 812.8,336.4 817.8,335.0 823.2,332.4 828.4,329.9 832.9,328.5 839.2,324.1 845.0,322.8 849.9,324.0 855.2,327.0 860.5,330.2 865.2,331.7 869.8,334.7 875.5,336.7 879.9,336.7 884.8,336.6 890.1,337.0 895.4,336.9 900.6,337.9 905.7,337.6 910.8,338.2 915.9,339.5 920.9,341.0 925.7,341.8 931.8,342.4 937.9,343.6 943.3,343.1 947.0,343.8"/>
<polyline points="117.0,412.6 119.9,413.3 123.5,413.5 127.8,414.1 132.7,413.2 137.9,413.4 143.4,413.3 149.0,413.1 154.5,413.2 159.9,410.9 165.0,409.7 169.9,406.1 174.8,402.0 179.8,397.2 184.8,392.4 189.8,386.2 194.8,379.7 199.7,375.2 204.6,370.9 209.5,369.4 214.3,367.6 219.5,369.0 224.7,371.8 229.8,376.0 234.8,381.0 239.9,387.1 244.9,392.6 249.9,397.0 254.9,402.5 260.0,405.0 265.1,407.4 270.2,408.3 275.3,408.9 280.4,409.1 285.5,409.3 290.6,408.9 295.7,408.4 300.8,409.5 306.0,409.5 311.2,410.0 316.4,409.4 321.6,409.1 326.8,409.2 332.1,407.9 337.3,408.7 342.5,408.1 347.8,407.5 353.0,407.5 358.3,408.0 363.6,407.5 368.9,407.9 374.3,408.2 379.6,407.8 384.9,407.5 390.0,408.4 395.1,408.2 400.0,408.7 405.3,409.4 410.5,410.6 415.5,411.1 420.4,413.3 425.3,415.1 430.2,415.3 435.0,417.2 440.0,418.8 445.1,418.4 450.3,419.9 455.5,422.5 460.8,424.0 465.9,425.0 470.9,425.4 475.6,426.9 480.0,428.7 486.3,429.8 491.9,430.4 497.1,429.8 502.2,431.3 507.5,430.5 513.0,431.0 518.6,429.6 524.1,430.6 529.5,429.2 534.5,428.4 540.3,425.8 545.8,424.3 551.0,422.0 556.1,420.1 562.4,417.7 568.3,416.8 575.0,414.7 579.7,414.0 584.9,413.2 590.3,413.7 595.4,412.1 600.0,411.5 606.4,409.2 611.9,407.8 617.4,405.2 623.3,403.0 629.2,399.9 634.7,398.1 642.1,393.2 648.6,387.1 654.0,380.2 659.0,374.8 664.2,366.8 669.4,359.6 674.8,348.8 680.0,338.2 688.0,319.2 694.0,305.9 701.7,292.8 708.0,285.6 717.0,279.1 726.0,277.7 731.0,278.2 736.0,279.8 745.0,282.0 749.9,284.7 755.0,288.3 759.8,291.1 765.0,294.2 771.9,298.3 779.0,301.7 784.8,303.2 790.0,303.6 794.4,305.5 800.0,306.6 804.3,305.9 809.4,306.8 814.8,306.6 820.0,306.5 825.0,306.7 830.0,306.5 835.0,306.7 840.0,306.2 844.5,307.0 848.8,306.8 853.6,308.3 860.0,308.2 864.0,307.2 868.4,308.6 873.2,307.6 878.3,308.1 883.6,308.2 889.0,307.8 894.5,307.7 900.0,307.9 905.2,307.3 910.9,308.5 916.9,307.0 923.0,308.2 929.0,306.9 934.6,306.9 939.6,307.0 943.8,306.2 947.0,307.0"/>
<polyline points="25.5,429.3 28.5,429.7 32.3,428.8 36.9,428.5 42.1,426.2 47.6,425.0 53.3,424.4 59.1,422.6 64.7,420.0 70.0,418.3 75.1,414.8 80.3,411.8 85.4,406.3 90.7,401.9 95.9,398.6 101.2,393.3 106.4,389.4 111.7,387.4 117.0,385.2 121.8,383.8 126.5,384.9 131.3,386.3 136.1,387.1 140.9,389.9 145.7,391.0 150.5,393.1 155.3,394.0 160.1,394.8 165.0,395.9 169.9,393.3 174.8,391.6 179.8,387.1 184.8,383.4 189.8,379.8 194.8,375.4 199.7,370.9 204.6,369.2 209.5,367.8 214.3,367.6 219.5,369.1 224.7,372.9 229.8,379.5 234.8,385.1 239.9,391.1 244.9,398.2 249.9,403.8 254.9,409.9 260.0,413.0 265.1,414.6 270.2,417.3 275.3,416.9 280.4,417.5 285.5,417.0 290.6,418.0 295.7,416.6 300.8,417.1 306.0,416.3 311.2,417.1 316.4,417.6 321.6,417.5 326.8,417.3 332.1,417.3 337.3,417.1 342.5,417.0 347.8,415.5 353.0,415.5 358.2,413.9 363.4,413.6 368.6,412.0 373.8,408.6 379.0,406.8 384.3,405.9 389.5,403.9 394.7,401.4 400.0,401.4 404.8,400.9 409.6,399.3 414.4,398.5 419.2,398.4 424.0,398.7 428.8,397.2 433.6,397.0 438.4,396.6 443.2,397.3 448.0,396.9 453.3,396.6 458.6,397.0 463.8,396.6 469.1,397.4 474.3,399.0 479.5,398.7 484.7,398.7 489.9,400.3 495.0,399.7 500.2,400.1 505.4,400.3 510.7,401.3 516.0,402.1 521.1,402.9 526.2,404.7 531.0,404.1 535.7,404.4 540.0,405.2 545.9,405.6 551.1,403.9 555.9,403.9 560.6,402.2 565.2,401.3 570.0,400.2 575.0,399.4 580.0,397.4 585.0,395.1 590.0,393.8 595.0,391.3 600.0,389.8 605.0,389.6 610.0,387.7 615.0,387.1 620.0,385.3 625.0,385.5 630.0,384.2 635.0,382.9 640.0,383.5 645.0,382.2 650.0,381.5 655.0,381.0 660.0,380.3 665.0,380.0 670.0,380.5 675.0,379.1 680.0,379.0 685.0,379.1 690.0,379.1 694.9,378.8 699.6,379.6 704.4,378.9 709.3,379.3 714.4,379.7 720.0,379.3 724.5,379.7 729.3,379.7 734.3,381.0 739.4,380.2 744.6,381.3 749.8,380.6 754.9,381.4 760.0,381.3 765.0,380.5 770.0,381.1 775.0,380.1 780.0,379.4 785.0,377.9 790.0,377.9 795.0,377.1 800.0,376.9 805.1,377.3 810.2,376.7 815.4,374.7 820.6,375.3 825.7,375.3 830.7,374.1 835.5,372.8 840.0,373.7 845.6,372.2 850.9,372.5 855.9,371.6 860.7,370.8 865.4,370.4 870.0,368.2 875.5,368.9 880.8,367.6 886.0,366.8 890.9,366.8 895.6,366.6 901.0,364.6 905.9,364.4 910.7,364.0 915.6,362.6 920.8,361.9 926.2,360.8 931.3,361.5 935.7,359.6 942.6,359.7 947.0,358.9"/>
<polyline points="117.0,349.8 119.9,349.0 123.5,351.5 127.8,351.9 132.7,354.9 137.9,354.8 143.4,358.1 149.0,359.4 154.5,361.2 159.9,362.8 165.0,362.5 169.9,363.5 174.8,364.8 179.8,364.4 184.8,364.7 189.8,364.9 194.8,366.2 199.7,366.6 204.6,366.8 209.5,366.3 214.3,367.6 219.5,369.5 224.7,370.2 229.8,371.3 234.8,373.4 239.9,375.0 244.9,376.1 249.9,378.5 254.9,379.4 260.0,380.8 265.2,382.5 270.5,383.3 275.9,384.2 281.2,386.2 286.5,387.3 291.7,386.7 296.8,387.2 301.5,384.4 306.0,382.4 312.1,376.2 317.6,368.4 322.7,357.2 327.5,346.4 332.3,336.1 337.3,329.6 342.5,326.5 347.6,323.3 352.8,322.8 357.8,322.7 362.7,323.3 367.2,322.8 373.6,318.8 379.6,314.3 385.0,310.3 389.6,306.6 395.4,305.7 400.8,303.2 406.1,300.4 412.2,297.5 419.5,296.6 423.8,295.6 428.6,297.0 433.7,296.6 439.0,297.7 444.2,298.0 449.4,300.4 454.4,301.2 459.5,301.8 464.6,302.4 469.7,304.3 474.8,305.5 480.0,307.8 485.4,309.6 491.0,311.1 496.6,312.2 502.1,313.6 507.3,316.8 512.0,318.2 517.9,318.0 522.9,319.3 527.6,319.8 532.4,321.3 537.5,320.1 542.5,320.6 547.6,322.8 552.7,323.6 557.8,325.8 562.9,329.3 568.0,332.2 573.1,335.3 578.2,337.4 583.2,340.1 588.3,342.5 593.5,344.7 598.7,345.8 604.0,345.0 609.4,344.1 615.0,343.2 619.7,341.9 624.6,339.8 629.6,337.2 634.8,335.8 640.0,333.5 645.5,331.4 651.4,329.1 657.2,325.1 662.8,323.8 667.8,320.6 674.5,316.4 680.1,312.2 686.3,306.6 691.9,302.2 698.0,298.4 704.1,292.3 709.4,289.3 715.1,285.3 720.0,282.3 724.9,280.7 730.2,280.2 735.5,280.2 740.0,279.7 748.0,281.7 755.7,291.1 763.5,297.0 768.2,298.2 773.9,298.3 780.0,300.6 784.1,300.8 787.9,301.1 792.8,302.5 800.0,301.3 803.8,301.2 808.1,301.6 812.8,302.1 817.8,301.6 823.1,301.2 828.6,301.7 834.1,300.5 839.5,301.0 844.9,299.3 850.0,300.5 855.0,299.2 860.0,299.9 865.1,300.0 870.1,299.5 875.2,299.1 880.2,298.9 885.2,299.1 890.2,298.2 895.1,297.7 900.0,298.1 905.6,297.8 911.5,296.8 917.6,297.3 923.7,296.9 929.5,296.1 934.9,296.9 939.8,296.8 943.9,295.8 947.0,296.0"/>
<polyline points="25.5,435.8 28.5,435.6 32.3,435.0 36.9,434.5 42.1,433.8 47.6,433.6 53.3,432.1 59.1,432.0 64.7,430.0 70.0,429.6 75.1,428.7 80.3,427.3 85.4,427.2 90.7,425.2 95.9,424.8 101.2,423.9 106.4,421.5 111.7,421.6 117.0,420.6 121.8,419.9 126.5,418.7 131.3,419.7 136.1,420.3 140.9,420.0 145.7,420.0 150.5,419.9 155.3,419.1 160.1,418.7 165.0,415.7 170.0,412.5 175.3,408.4 180.8,403.5 186.2,396.3 191.7,389.6 196.9,385.2 201.9,379.3 206.6,374.3 210.7,370.0 214.3,367.6 222.0,368.2 226.1,376.4 230.0,384.6 235.1,389.9 240.0,393.8 245.0,399.4 249.8,403.5 254.6,406.1 260.0,411.6 264.5,414.1 269.3,418.1 274.5,420.6 280.0,424.5 284.7,427.2 289.7,431.3 294.9,434.7 300.4,436.4 306.0,437.4 310.8,436.2 315.8,433.6 320.9,429.7 326.2,425.9 331.7,422.3 337.3,419.0 342.3,417.2 347.5,416.1 352.9,415.8 358.4,414.5 363.8,413.5 369.3,413.0 374.7,411.3 380.0,410.4 385.4,409.7 390.7,409.2 396.0,408.6 401.3,409.5 406.7,410.2 412.0,409.3 417.4,411.5 422.9,413.7 428.4,415.5 433.8,416.7 439.2,419.8 444.4,421.1 449.4,422.4 454.8,423.3 459.8,424.9 464.5,426.1 469.4,425.1 474.4,425.5 480.0,426.5 484.7,426.4 490.0,427.7 495.6,428.8 501.2,428.9 506.7,428.7 511.8,429.2 516.3,430.0 520.0,431.3 527.7,433.3 531.8,433.4 537.1,432.6 542.6,431.5 549.2,428.0 556.1,423.3 562.5,420.6 569.6,419.8 575.7,421.2 582.4,421.6 588.5,423.3 595.6,421.3 602.0,417.1 608.8,412.2 615.5,407.1 622.1,402.8 629.0,398.9 634.4,398.0 640.1,396.7 645.2,396.8 650.8,394.0 656.0,392.5 662.6,391.4 669.5,390.8 676.0,391.9 683.0,395.1 688.4,394.2 694.1,394.8 700.0,395.1 706.3,395.2 712.8,395.7 718.0,396.5 725.0,403.4 729.3,403.4 734.8,405.0 740.9,405.4 747.1,405.6 752.8,404.8 758.0,404.5 763.1,404.1 768.0,402.9 772.7,400.7 777.0,400.7 783.4,400.9 789.1,403.2 794.4,403.2 800.3,402.0 808.3,399.5 812.2,399.3 816.9,399.0 822.1,398.1 827.5,396.6 833.0,396.1 838.2,395.7 843.0,393.9 849.1,394.4 855.0,391.8 860.5,391.9 865.8,390.0 870.8,390.3 876.5,388.2 881.6,385.7 886.6,384.4 891.6,383.2 896.9,381.5 902.2,379.3 907.4,377.5 912.4,376.0 918.5,374.4 924.1,372.0 929.8,370.6 936.2,369.5 942.5,367.8 947.0,366.9"/>
</g>
<!-- 100 line -->
<line x1="22" y1="367.7" x2="956.5" y2="367.7" stroke="#c8cfd4" stroke-width="2.2"/>
<!-- y axis -->
<g stroke="#9da2a6" stroke-width="1.6">
<line x1="977.5" y1="160" x2="987.2" y2="160"/>
<line x1="963.7" y1="263.9" x2="987.2" y2="263.9"/>
<line x1="963.7" y1="368" x2="987.2" y2="368"/>
<line x1="963.7" y1="471.6" x2="987.2" y2="471.6"/>
</g>
<g font-size="11.5" fill="#505459" text-anchor="end">
<text x="970" y="156.9" text-anchor="start" textLength="17.2" lengthAdjust="spacingAndGlyphs">400</text>
<text x="970.2" y="260.9" text-anchor="start" textLength="17" lengthAdjust="spacingAndGlyphs">200</text>
<text x="970.2" y="363.9" text-anchor="start" textLength="17" lengthAdjust="spacingAndGlyphs">100</text>
<text x="975.5" y="468.4" text-anchor="start" textLength="11.7" lengthAdjust="spacingAndGlyphs">50</text>
</g>
<!-- x axis -->
<g stroke="#a6aeb4" stroke-width="1.5">
<line x1="22.8" y1="472" x2="22.8" y2="488" />
<line x1="117.0" y1="472" x2="117.0" y2="488" />
<line x1="211.7" y1="472" x2="211.7" y2="488" />
<line x1="306.1" y1="472" x2="306.1" y2="488" />
<line x1="400.6" y1="472" x2="400.6" y2="488" />
<line x1="495.0" y1="472" x2="495.0" y2="488" />
<line x1="589.6" y1="472" x2="589.6" y2="488" />
<line x1="684.1" y1="472" x2="684.1" y2="488" />
<line x1="778.9" y1="472" x2="778.9" y2="488" />
<line x1="873.3" y1="472" x2="873.3" y2="488" />
<line x1="929.9" y1="472" x2="929.9" y2="488" />
</g>
<g font-size="11.5" fill="#5d6267">
<text x="26.5" y="488.2" textLength="22.0" lengthAdjust="spacingAndGlyphs">1970</text>
<text x="120.7" y="488.2" textLength="11.0" lengthAdjust="spacingAndGlyphs">75</text>
<text x="215.4" y="488.2" textLength="11.0" lengthAdjust="spacingAndGlyphs">80</text>
<text x="309.8" y="488.2" textLength="11.0" lengthAdjust="spacingAndGlyphs">85</text>
<text x="404.3" y="488.2" textLength="11.0" lengthAdjust="spacingAndGlyphs">90</text>
<text x="498.7" y="488.2" textLength="11.0" lengthAdjust="spacingAndGlyphs">95</text>
<text x="593.3" y="488.2" textLength="22.0" lengthAdjust="spacingAndGlyphs">2000</text>
<text x="687.8" y="488.2" textLength="11.0" lengthAdjust="spacingAndGlyphs">05</text>
<text x="782.6" y="488.2" textLength="11.0" lengthAdjust="spacingAndGlyphs">10</text>
<text x="877.0" y="488.2" textLength="11.0" lengthAdjust="spacingAndGlyphs">15</text>
<text x="933.6" y="488.2" textLength="11.0" lengthAdjust="spacingAndGlyphs">18</text>
</g>
<!-- vertical Q1 1980 line -->
<line x1="214.5" y1="120" x2="214.5" y2="470.5" stroke="#cbd3da" stroke-width="2.4"/>
<!-- colored lines -->
<polyline points="120.2,388.5 123.6,390.2 129.7,391.6 137.2,389.2 148.0,387.5 156.2,384.8 165.7,380.7 173.8,376.0 183.3,371.5 195.5,364.9 209.1,364.9 214.5,367.6 224.3,369.8 233.8,373.4 243.3,376.5 252.8,378.1 259.9,381.7 269.4,381.7 281.3,381.2 295.5,380.7 309.8,379.8 319.3,378.1 326.4,374.6 336.6,365.8 346.1,362.2 355.7,359.8 367.5,356.3 377.0,355.1 385.4,353.4 398.4,354.4 408.0,357.0 415.1,361.0 422.2,365.1 431.7,367.0 443.6,369.8 453.1,371.7 465.3,373.3 480.5,372.7 495.8,373.6 511.1,374.8 526.3,375.7 538.5,375.1 547.7,372.7 559.9,368.1 572.1,363.5 587.4,358.9 599.6,354.4 613.6,347.5 627.2,341.7 640.8,334.9 654.3,328.8 667.9,319.6 681.5,309.5 695.1,299.3 706.0,291.8 715.5,295.9 724.0,294.2 730.8,299.3 739.3,306.1 747.8,316.2 754.6,325.4 759.6,327.1 768.1,334.9 780.0,337.3 787.0,340.5 803.9,351.1 818.8,355.4 833.6,349.0 850.6,336.3 863.3,334.2 876.0,327.8 888.7,324.4 901.5,319.3 914.2,317.2 931.2,313.0 943.9,311.7 951.5,310.0" fill="none" stroke="#17638f" stroke-width="2.35" stroke-linejoin="round" stroke-linecap="round"/>
<polyline points="25.3,419.0 29.9,419.8 35.4,415.0 40.8,417.0 49.0,419.0 55.7,411.7 63.9,402.0 69.3,388.6 73.4,372.3 77.4,364.0 82.3,352.0 87.0,349.0 91.8,342.0 96.5,345.0 101.9,350.6 106.0,357.4 111.4,361.0 115.4,364.4 119.5,372.6 123.6,380.0 129.0,383.5 137.2,388.2 148.0,391.0 154.8,398.4 162.3,405.9 171.1,401.8 177.9,399.7 184.7,393.0 191.5,382.0 198.3,376.7 203.7,373.3 209.1,368.5 214.5,367.6 223.0,367.9 231.4,372.2 243.3,376.9 248.0,381.7 252.8,388.8 262.3,383.6 271.8,379.3 281.3,374.6 290.8,372.7 300.3,367.9 309.8,367.9 319.3,365.0 327.1,357.5 336.6,349.1 346.1,343.2 353.3,336.1 360.4,326.6 369.9,314.7 374.7,299.2 379.4,290.9 386.6,288.5 393.7,283.0 400.8,293.3 408.0,300.4 412.7,300.4 419.8,307.5 428.2,313.5 434.1,314.7 441.2,320.6 446.0,325.4 451.9,326.6 456.1,332.4 465.3,333.0 469.8,329.9 474.4,333.6 480.5,332.4 488.2,329.9 495.8,333.0 505.0,333.6 512.6,336.0 520.2,335.4 526.3,331.5 535.5,328.4 541.6,325.3 546.2,319.2 550.8,320.8 558.4,314.7 565.4,305.5 572.1,307.0 578.2,300.9 584.4,291.8 592.0,285.6 599.6,278.0 606.8,272.8 613.6,270.4 620.4,265.3 625.5,268.0 632.3,261.9 637.4,251.7 644.2,239.8 651.0,234.7 659.4,227.9 667.9,222.8 678.1,210.3 688.3,210.3 698.5,207.6 708.7,203.5 717.2,200.1 725.7,193.3 735.9,188.9 742.7,190.6 749.5,197.4 756.2,211.0 761.3,218.4 766.4,221.8 773.2,216.0 780.6,212.5 791.2,214.1 803.9,221.8 816.6,224.3 829.4,225.2 844.2,225.2 854.8,220.9 867.5,214.1 880.3,209.1 895.1,199.7 910.0,197.6 926.9,195.1 939.6,194.2 951.5,195.1" fill="none" stroke="#3eb0c6" stroke-width="2.35" stroke-linejoin="round" stroke-linecap="round"/>
<path d="M214.7,363.8 L218.5,367.7 L214.7,371.6 L210.9,367.7Z" fill="#fff" stroke="#6f767b" stroke-width="1.3" stroke-linejoin="miter"/>
<!-- line labels -->
<text x="914.2" y="190" font-size="12.5" fill="#4db3c9" stroke="#4db3c9" stroke-width="0.45" textLength="37.3" lengthAdjust="spacingAndGlyphs">Britain</text>
<text x="876" y="305" font-size="12.5" fill="#23679a" stroke="#23679a" stroke-width="0.6" textLength="75.5" lengthAdjust="spacingAndGlyphs">United States</text>
<!-- slider box -->
<path d="M170,107.5 L176,102.5 L176,112.5Z" fill="#8e9ba4"/>
<path d="M256,107.5 L250.5,102.5 L250.5,112.5Z" fill="#8e9ba4"/>
<rect x="180.6" y="95.4" width="65.6" height="24.4" rx="3" fill="#fff" stroke="#95a2aa" stroke-width="1.3"/>
<text x="190" y="110" font-size="12" fill="#2b2f34" stroke="#2b2f34" stroke-width="0.45" textLength="47" lengthAdjust="spacingAndGlyphs">Q1 1980</text>
<!-- bottom -->
<g font-size="12" fill="#5b6168">
<text x="315.7" y="530" textLength="122.4" lengthAdjust="spacingAndGlyphs">HOUSE-PRICE INDEX IN</text>
<text x="565.4" y="530" textLength="125.3" lengthAdjust="spacingAndGlyphs">HOUSE PRICES AGAINST</text>
</g>
<rect x="365" y="541.9" width="88.6" height="24.6" fill="#fff" stroke="#a3adb4" stroke-width="1.1"/>
<rect x="299.1" y="542.2" width="65.8" height="24.2" rx="1" fill="#cad9e4" stroke="#20262b" stroke-width="1.7"/>
<rect x="583.8" y="542.1" width="51.8" height="24.4" fill="#fff" stroke="#6d7c87" stroke-width="1.3"/>
<rect x="636.8" y="542.1" width="35" height="24.4" fill="#fff" stroke="#6d7c87" stroke-width="1.3"/>
<g font-size="12">
<text x="307" y="557.4" fill="#474e55" textLength="50.3" lengthAdjust="spacingAndGlyphs">real prices</text>
<text x="373.3" y="557.6" fill="#959ca2" textLength="72.3" lengthAdjust="spacingAndGlyphs">nominal prices</text>
<text x="591.5" y="557.6" fill="#8f979e" textLength="36.6" lengthAdjust="spacingAndGlyphs">income</text>
<text x="644" y="557.6" fill="#8f979e" textLength="20" lengthAdjust="spacingAndGlyphs">rent</text>
</g>
<text x="21.9" y="562.8" font-size="10.5" fill="#6b6f74" textLength="208.8" lengthAdjust="spacingAndGlyphs">Sources: national statistics; OECD; <tspan font-style="italic">The Economist</tspan></text>
</svg>
</body></html>
